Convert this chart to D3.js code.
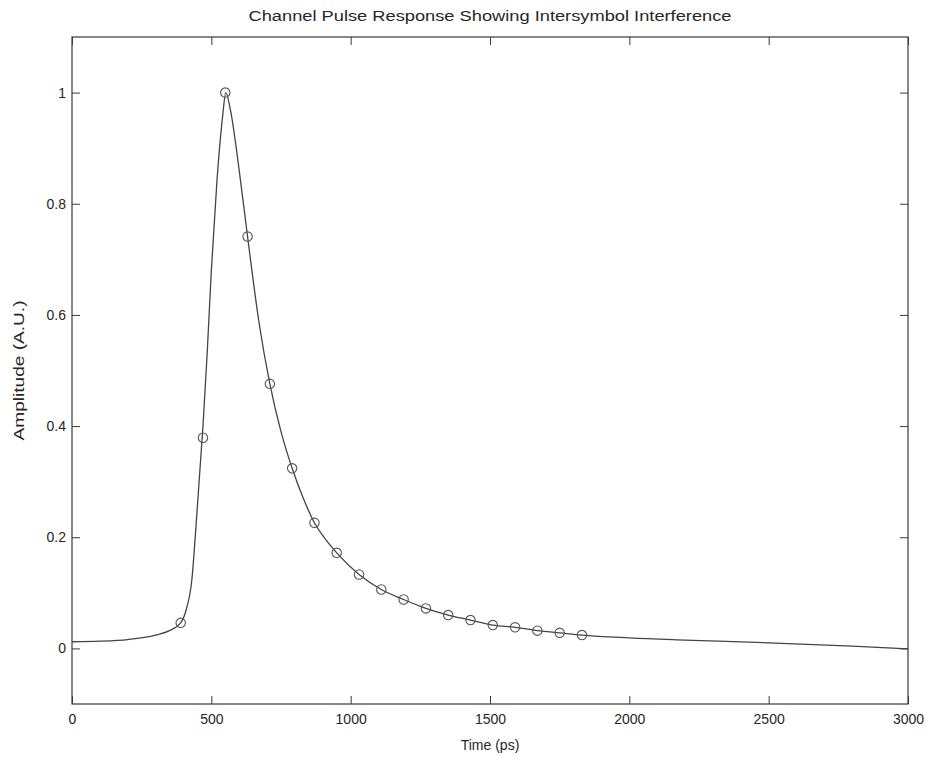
<!DOCTYPE html>
<html>
<head>
<meta charset="utf-8">
<script src="https://cdn.jsdelivr.net/npm/d3@7"></script>
<style>
  html, body { margin: 0; padding: 0; background: #fff; }
  svg { display: block; font-family: "Liberation Sans", Arial, Helvetica, sans-serif; }
</style>
</head>
<body>
<svg id="chart" width="928" height="758"></svg>
<script>
// Continuous pulse response (time in ps, amplitude in arbitrary units)
const pulseTime = [0, 100, 200, 300, 350, 390, 410, 430, 445, 459, 470, 485, 500, 520, 540, 552,
  570, 600, 630, 670, 710, 750, 790, 830, 870, 910, 950, 1030, 1110, 1190, 1270, 1350, 1430,
  1510, 1590, 1670, 1750, 1830, 2000, 2200, 2500, 2800, 3000];
const pulseAmp = [0.012, 0.013, 0.016, 0.024, 0.032, 0.046, 0.070, 0.123, 0.220, 0.321, 0.400, 0.530, 0.680, 0.840, 0.955, 1.000,
  0.965, 0.860, 0.741, 0.590, 0.476, 0.390, 0.324, 0.270, 0.226, 0.196, 0.172, 0.133, 0.106, 0.088, 0.072, 0.060, 0.051,
  0.042, 0.038, 0.032, 0.028, 0.024, 0.019, 0.015, 0.010, 0.004, -0.001];

// Symbol-spaced samples of the pulse (one per bit period)
const sampleTime = [390, 470, 550, 630, 710, 790, 870, 950, 1030, 1110, 1190, 1270, 1350, 1430, 1510, 1590, 1670, 1750, 1830];
const sampleAmp = [0.046, 0.379, 1.000, 0.741, 0.476, 0.324, 0.226, 0.172, 0.133, 0.106, 0.088, 0.072, 0.060, 0.051, 0.042, 0.038, 0.032, 0.028, 0.024];

const xTicks = [0, 500, 1000, 1500, 2000, 2500, 3000];
const yTicks = [0, 0.2, 0.4, 0.6, 0.8, 1];

const titleText = "Channel Pulse Response Showing Intersymbol Interference";
const xLabel = "Time (ps)";
const yLabel = "Amplitude (A.U.)";

const margin = { left: 72, right: 20, top: 37, bottom: 54 };
const W = 928, H = 758;
const innerW = W - margin.left - margin.right;
const innerH = H - margin.top - margin.bottom;

const ink = "#3a3a3a";
const textInk = "#262626";
const svg = d3.select("#chart");
const g = svg.append("g").attr("transform", `translate(${margin.left},${margin.top})`);

const x = d3.scaleLinear().domain([0, 3000]).range([0, innerW]);
const y = d3.scaleLinear().domain([-0.1, 1.1]).range([innerH, 0]);

const tickLen = 8;
const fmt = d => d3.format("~g")(d);

function styleAxis(sel) {
  sel.select(".domain").remove();
  sel.selectAll(".tick line").attr("stroke", ink).attr("stroke-width", 1);
  sel.selectAll(".tick text").attr("fill", textInk).attr("font-size", 14);
}

// bottom axis (labels) with inward ticks
g.append("g").attr("transform", `translate(0,${innerH})`)
  .call(d3.axisBottom(x).tickValues(xTicks).tickFormat(fmt).tickSizeInner(-tickLen).tickSizeOuter(0).tickPadding(10))
  .call(styleAxis);
// top axis ticks only
g.append("g")
  .call(d3.axisTop(x).tickValues(xTicks).tickFormat("").tickSizeInner(-tickLen).tickSizeOuter(0))
  .call(styleAxis);
// left axis
g.append("g")
  .call(d3.axisLeft(y).tickValues(yTicks).tickFormat(fmt).tickSizeInner(-tickLen).tickSizeOuter(0).tickPadding(6))
  .call(styleAxis);
// right axis ticks only
g.append("g").attr("transform", `translate(${innerW},0)`)
  .call(d3.axisRight(y).tickValues(yTicks).tickFormat("").tickSizeInner(-tickLen).tickSizeOuter(0))
  .call(styleAxis);

// frame
g.append("rect")
  .attr("x", 0).attr("y", 0).attr("width", innerW).attr("height", innerH)
  .attr("fill", "none").attr("stroke", ink).attr("stroke-width", 1.2);

// pulse curve
const pulse = pulseTime.map((t, i) => ({ t, a: pulseAmp[i] }));
g.append("path")
  .datum(pulse)
  .attr("fill", "none")
  .attr("stroke", "#444")
  .attr("stroke-width", 1.3)
  .attr("d", d3.line().x(d => x(d.t)).y(d => y(d.a)).curve(d3.curveMonotoneX));

// sample markers
const samples = sampleTime.map((t, i) => ({ t, a: sampleAmp[i] }));
g.append("g").selectAll("circle")
  .data(samples)
  .join("circle")
  .attr("cx", d => x(d.t))
  .attr("cy", d => y(d.a))
  .attr("r", 4.7)
  .attr("fill", "none")
  .attr("stroke", "#555")
  .attr("stroke-width", 1.1);

// title
svg.append("text")
  .attr("x", margin.left + innerW / 2).attr("y", 21)
  .attr("text-anchor", "middle")
  .attr("font-size", 14)
  .attr("fill", textInk)
  .attr("textLength", 483).attr("lengthAdjust", "spacingAndGlyphs")
  .text(titleText);

// x label
svg.append("text")
  .attr("x", margin.left + innerW / 2).attr("y", 750)
  .attr("text-anchor", "middle")
  .attr("font-size", 14)
  .attr("fill", textInk)
  .text(xLabel);

// y label
svg.append("text")
  .attr("transform", `translate(24,${margin.top + y(0.5)}) rotate(-90)`)
  .attr("text-anchor", "middle")
  .attr("font-size", 14)
  .attr("fill", textInk)
  .attr("textLength", 140).attr("lengthAdjust", "spacingAndGlyphs")
  .text(yLabel);
</script>
</body>
</html>
